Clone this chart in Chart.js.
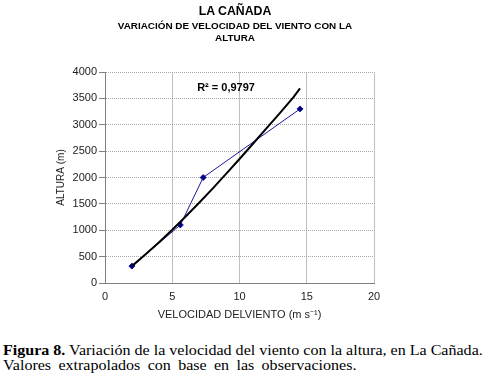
<!DOCTYPE html>
<html>
<head>
<meta charset="utf-8">
<script src="https://cdn.jsdelivr.net/npm/chart.js@4.4.1/dist/chart.umd.min.js"></script>
<style>
  body { margin: 0; background: #fff; }
  #page { position: relative; width: 484px; height: 383px; overflow: hidden; }
  #chartBox { position: absolute; left: 0; top: 0; width: 484px; height: 330px; }
  .t { position: absolute; left: 0; width: 470px; text-align: center; font-family: "Liberation Sans", Arial, sans-serif; font-weight: bold; color: #000; }
  #t1 { top: 4px; font-size: 12.3px; }
  #t2 { top: 20px; font-size: 9.9px; line-height: 12px; }
  #caption { position: absolute; left: 3px; top: 343px; font-family: "Liberation Serif", "Times New Roman", serif; font-size: 14.5px; line-height: 15px; color: #000; white-space: nowrap; transform: scaleX(1.106); transform-origin: 0 0; }
  #caption .l2 { word-spacing: 3px; }
</style>
</head>
<body>
<div id="page">
  <div id="chartBox"><canvas id="vientoChart"></canvas></div>
  <div class="t" id="t1">LA CAÑADA</div>
  <div class="t" id="t2">VARIACIÓN DE VELOCIDAD DEL VIENTO CON LA<br>ALTURA</div>
  <div id="caption"><b>Figura 8.</b> Variación de la velocidad del viento con la altura, en La Cañada.<br><span class="l2">Valores extrapolados con base en las observaciones.</span></div>
</div>
<script>
const velocidad = [2, 5.6, 7.3, 14.5];
const altura = [320, 1100, 2000, 3300];

// Trend line
const tendenciaX = [2, 3, 4, 5, 6, 7, 8, 9, 10, 11, 12, 13, 14, 14.5];
const tendenciaY = [320, 540, 770, 1010, 1260, 1520, 1790, 2070, 2350, 2640, 2930, 3220, 3520, 3690];

const r2Label = 'R² = 0,9797';
const r2Pos = [9, 3700];

const toPoints = (xs, ys) => xs.map((x, i) => ({ x: x, y: ys[i] }));

// draws the R² text at a data position
const r2Plugin = {
    id: 'r2Text',
    afterDatasetsDraw(chart) {
        const { ctx, scales } = chart;
        ctx.save();
        ctx.font = 'bold 11px "Liberation Sans", Arial, sans-serif';
        ctx.fillStyle = '#000';
        ctx.textAlign = 'center';
        ctx.textBaseline = 'middle';
        ctx.fillText(r2Label, scales.x.getPixelForValue(r2Pos[0]), scales.y.getPixelForValue(r2Pos[1]));
        ctx.restore();
    }
};

const initChart = () => {
    const ctx = document.getElementById('vientoChart').getContext('2d');
    new Chart(ctx, {
        type: 'scatter',
        data: {
            datasets: [{
                label: 'Altura',
                data: toPoints(velocidad, altura),
                showLine: true,
                borderColor: '#1a1a99',
                backgroundColor: '#000080',
                borderWidth: 1,
                pointStyle: 'rectRot',
                pointRadius: 3,
                pointHoverRadius: 3,
                order: 2
            }, {
                label: 'Tendencia',
                data: toPoints(tendenciaX, tendenciaY),
                showLine: true,
                borderColor: '#000',
                borderWidth: 2,
                pointRadius: 0,
                tension: 0,
                order: 1
            }]
        },
        options: {
            responsive: true,
            maintainAspectRatio: false,
            animation: false,
            layout: { padding: { top: 72, left: 0, right: 110, bottom: 7 } },
            plugins: {
                legend: { display: false },
                tooltip: { enabled: false }
            },
            scales: {
                x: {
                    type: 'linear',
                    min: 0,
                    max: 20,
                    ticks: { stepSize: 5, padding: 7, color: '#222', font: { family: '"Liberation Sans", Arial', size: 11 } },
                    grid: { color: '#c0c0c0', drawTicks: false },
                    border: { color: '#808080' },
                    title: {
                        display: true,
                        text: 'VELOCIDAD DELVIENTO (m s⁻¹)',
                        color: '#222',
                        font: { family: '"Liberation Sans", Arial', size: 11 },
                        padding: { top: 0, bottom: 1 }
                    },
                    afterFit: (scale) => { scale.height = 40; }
                },
                y: {
                    min: 0,
                    max: 4000,
                    ticks: {
                        stepSize: 500,
                        padding: 2,
                        color: '#222',
                        font: { family: '"Liberation Sans", Arial', size: 11 },
                        callback: (value) => String(value)
                    },
                    grid: { color: '#a8a8a8', tickLength: 6, tickColor: '#808080', tickBorderDash: [] },
                    border: { color: '#808080', dash: [1, 1] },
                    title: {
                        display: true,
                        text: 'ALTURA (m)',
                        color: '#222',
                        font: { family: '"Liberation Sans", Arial', size: 10 },
                        padding: { top: 55, bottom: 0 }
                    },
                    afterFit: (scale) => { scale.width = 105; }
                }
            }
        },
        plugins: [r2Plugin]
    });
};

document.addEventListener('DOMContentLoaded', initChart);
</script>
</body>
</html>
